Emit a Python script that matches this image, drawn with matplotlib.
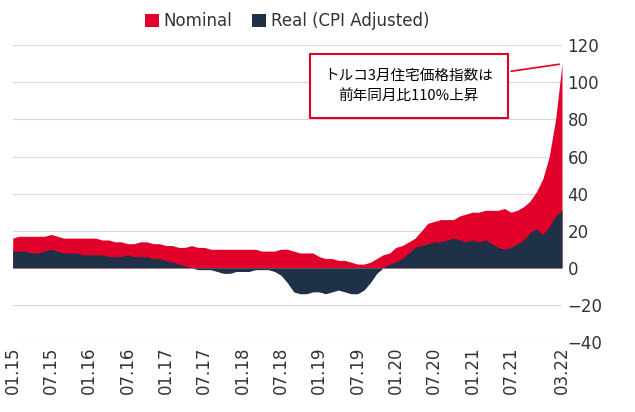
import matplotlib
matplotlib.use("Agg")
import matplotlib.pyplot as plt
import numpy as np

nominal = [16,17,17,17,17,17,18,17,16,16,16,16,
           16,16,15,15,14,14,13,13,14,14,13,13,
           12,12,11,11,12,11,11,10,10,10,10,10,
           10,10,10,9,9,9,10,10,9,8,8,8,
           6,5,5,4,4,3,2,2,3,5,7,8,
           11,12,14,16,20,24,25,26,26,26,28,29,
           30,30,31,31,31,32,30,31,33,36,41,48,
           60,80,110]
real = [9,9,9,8,8,9,10,9,8,8,8,7,
        7,7,7,6,6,6,7,6,6,6,5,5,
        4,3,2,1,0,-1,-1,-1,-2,-3,-3,-2,
        -2,-2,-1,-1,-1,-2,-4,-8,-13,-14,-14,-13,
        -13,-14,-13,-12,-13,-14,-14,-12,-8,-3,0,2,
        3,5,8,11,12,13,14,14,15,16,15,14,
        15,14,15,13,11,10,11,13,15,19,21,18,
        22,28,31]
tick_labels = ["01.15","07.15","01.16","07.16","01.17","07.17","01.18","07.18",
               "01.19","07.19","01.20","07.20","01.21","07.21","03.22"]
tick_idx = [0,6,12,18,24,30,36,42,48,54,60,66,72,78,86]

red = "#E1002A"; navy = "#1E3147"
fig, ax = plt.subplots(figsize=(6.35,4.12), dpi=100)
fig.subplots_adjust(left=0.02, right=0.885, top=0.89, bottom=0.17)
x = np.arange(len(nominal))
ax.fill_between(x, 0, nominal, color=red, lw=0, label="Nominal")
ax.fill_between(x, 0, real, color=navy, lw=0, label="Real (CPI Adjusted)")
ax.set_xlim(0, 86); ax.set_ylim(-40, 120)
ax.set_yticks(range(-40,121,20))
ax.yaxis.tick_right()
ax.grid(axis="y", color="#d9d9d9", lw=0.8); ax.set_axisbelow(True)
for s in ax.spines.values(): s.set_visible(False)
ax.tick_params(length=0, labelsize=12, colors="#333333")
ax.set_xticks(tick_idx); ax.set_xticklabels(tick_labels, rotation=90)
ax.tick_params(axis="y", pad=4)
leg = ax.legend(loc="lower center", bbox_to_anchor=(0.5, 1.0), ncol=2, frameon=False,
                fontsize=12, handlelength=0.8, handleheight=0.8, columnspacing=1.2, handletextpad=0.3)
for t in leg.get_texts(): t.set_color("#333333")
ax.annotate("トルコ3月住宅価格指数は\n前年同月比110%上昇", xy=(86,110), xytext=(62,98),
            ha="center", va="center", fontsize=10.5, family="Noto Sans CJK JP", linespacing=1.6,
            bbox=dict(boxstyle="square,pad=1.0", fc="white", ec=red, lw=1.5),
            arrowprops=dict(arrowstyle="-", color=red, lw=1.2))
fig.savefig("out.png")
